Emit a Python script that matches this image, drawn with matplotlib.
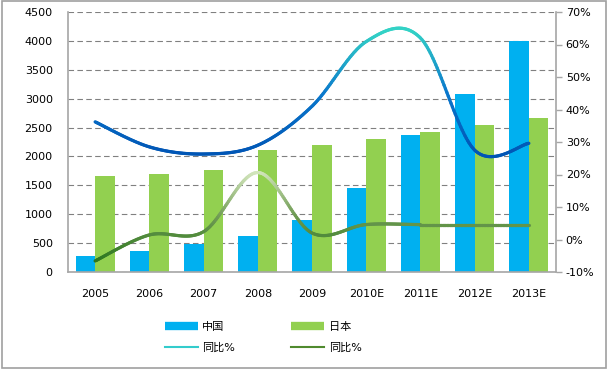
import numpy as np
import matplotlib
matplotlib.use("Agg")
import matplotlib.pyplot as plt
from matplotlib.collections import LineCollection
from matplotlib.colors import LinearSegmentedColormap, Normalize
from matplotlib.lines import Line2D
from matplotlib.patches import Rectangle

plt.rcParams['font.family'] = ['DejaVu Sans', 'Noto Sans CJK SC']

years = ['2005', '2006', '2007', '2008', '2009', '2010E', '2011E', '2012E', '2013E']
china = [280, 370, 490, 630, 900, 1460, 2370, 3080, 4000]
japan = [1670, 1690, 1760, 2120, 2200, 2310, 2420, 2550, 2670]
china_yoy = [36.2, 28.5, 26.3, 29.0, 41.0, 60.9, 62.0, 27.5, 29.6]
japan_yoy = [-6.6, 1.4, 2.4, 20.6, 2.0, 4.6, 4.6, 4.6, 4.6]

C_CHINA = '#00B0F0'
C_JAPAN = '#92D050'


def smooth(xs, ys, n=40):
    # Excel-style smoothed line (bezier through points)
    p = np.column_stack([xs, ys]).astype(float)
    pts = [p[0]] + list(p) + [p[-1]]
    out = []
    for i in range(1, len(pts) - 2):
        p0, p1, p2, p3 = pts[i - 1], pts[i], pts[i + 1], pts[i + 2]
        c1 = p1 + (p2 - p0) / 6
        c2 = p2 - (p3 - p1) / 6
        t = np.linspace(0, 1, n)[:, None]
        seg = (1 - t) ** 3 * p1 + 3 * (1 - t) ** 2 * t * c1 + 3 * (1 - t) * t ** 2 * c2 + t ** 3 * p2
        out.append(seg if i == 1 else seg[1:])
    return np.vstack(out)


def gradient_line(ax, xs, ys, cmap, vmin, vmax, lw=2.3):
    curve = smooth(xs, ys)
    segs = np.stack([curve[:-1], curve[1:]], axis=1)
    lc = LineCollection(segs, cmap=cmap, norm=Normalize(vmin, vmax), linewidth=lw,
                        capstyle='round', joinstyle='round')
    lc.set_array((curve[:-1, 1] + curve[1:, 1]) / 2)
    ax.add_collection(lc)


fig = plt.figure(figsize=(6.09, 3.71), dpi=100)
ax = fig.add_axes([68 / 609, 1 - 272 / 371, (556 - 68) / 609, 260 / 371])

x = np.arange(len(years))
w = 0.36
ax.bar(x - w / 2, china, w, color=C_CHINA, zorder=2)
ax.bar(x + w / 2, japan, w, color=C_JAPAN, zorder=2)

ax.set_xlim(-0.5, len(years) - 0.5)
ax.set_ylim(0, 4500)
ax.set_yticks(range(0, 4501, 500))
ax.set_xticks(x)
ax.set_xticklabels(years)
ax.yaxis.grid(True, linestyle=(0, (5, 3)), color='#808080', linewidth=0.8, zorder=0)
ax.set_axisbelow(True)
ax.tick_params(axis='y', length=0, pad=11, labelsize=8)
ax.tick_params(axis='x', length=0, pad=12, labelsize=8)
for s in ['top', 'right']:
    ax.spines[s].set_visible(False)
for s in ['left', 'bottom']:
    ax.spines[s].set_color('#A6A6A6')
    ax.spines[s].set_linewidth(1.2)

ax2 = ax.twinx()
ax2.set_ylim(-10, 70)
ax2.set_yticks(range(-10, 71, 10))
ax2.set_yticklabels([f'{v}%' for v in range(-10, 71, 10)])
ax2.tick_params(axis='y', length=4, width=1, color='#A6A6A6', pad=3, labelsize=8)
for s in ['top', 'left', 'bottom']:
    ax2.spines[s].set_visible(False)
ax2.spines['right'].set_color('#A6A6A6')
ax2.spines['right'].set_linewidth(1.2)

blue_cmap = LinearSegmentedColormap.from_list('b', ['#0055B5', '#0A78CC', '#33D2C6'])
green_cmap = LinearSegmentedColormap.from_list('g', ['#2A761E', '#6E9A52', '#D4E7BE'])
gradient_line(ax2, x, china_yoy, blue_cmap, 26, 64)
gradient_line(ax2, x, japan_yoy, green_cmap, -7, 21)

handles = [
    Line2D([], [], color=C_CHINA, lw=6, solid_capstyle='butt'),
    Line2D([], [], color='#33CCCC', lw=1.5),
    Line2D([], [], color=C_JAPAN, lw=6, solid_capstyle='butt'),
    Line2D([], [], color='#4F8A2E', lw=1.5),
]
labels = ['中国', '同比%', '日本', '同比%']
fig.legend(handles, labels, ncol=2, loc='center', bbox_to_anchor=(263 / 609, 1 - 337.5 / 371),
           frameon=False, fontsize=8, handlelength=3.0, handletextpad=0.4,
           columnspacing=5.0, labelspacing=0.9)

fig.patches.append(Rectangle((0.003, 0.008), 0.992, 0.988, transform=fig.transFigure,
                             fill=False, edgecolor='#A0A0A0', linewidth=1.2))

fig.savefig('out.png', dpi=100)
